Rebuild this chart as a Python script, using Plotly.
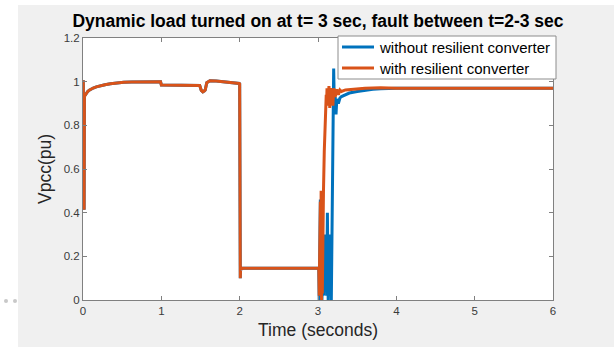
import plotly.graph_objects as go

# ---------------- data ----------------
# shared part (both cases identical before the dynamic load turns on at t = 3 s)
t_pre = [0, 0.004, 0.008, 0.014, 0.018, 0.024, 0.032, 0.045, 0.06, 0.08,
         0.1, 0.13, 0.17, 0.22, 0.28, 0.35, 0.43, 0.52, 0.62, 0.75,
         0.88, 0.99, 1.0, 1.01, 1.2, 1.4, 1.49, 1.51, 1.53, 1.55,
         1.56, 1.58, 1.62, 1.7, 1.8, 1.9, 1.995, 2.0, 2.008, 2.012,
         2.02, 2.04, 2.3, 2.6, 2.9, 3.0]
v_pre = [1.0, 1.0, 0.42, 0.42, 0.93, 0.945, 0.94, 0.948, 0.955, 0.961,
         0.966, 0.971, 0.976, 0.981, 0.986, 0.99, 0.994, 0.997, 0.999, 1.0,
         1.002, 1.0, 0.985, 0.985, 0.985, 0.984, 0.983, 0.96, 0.953, 0.958,
         0.962, 0.995, 1.004, 1.003, 1.0, 0.996, 0.992, 0.99, 0.10, 0.15,
         0.142, 0.145, 0.145, 0.145, 0.145, 0.145]

# without resilient converter (after t = 3 s)
t_without = [3.01, 3.015, 3.02, 3.025, 3.03, 3.035, 3.04, 3.05, 3.06, 3.07,
             3.08, 3.09, 3.1, 3.11, 3.12, 3.13, 3.14, 3.15, 3.16, 3.17,
             3.18, 3.19, 3.2, 3.21, 3.22, 3.23, 3.24, 3.26, 3.28, 3.3,
             3.35, 3.4, 3.5, 3.6, 3.7, 3.8, 4.0, 5.0, 6.0]
v_without = [0.145, 0.0, 0.25, 0.05, 0.46, 0.1, 0.3, 0.0, 0.15, 0.02,
             0.3, 0.05, 0.2, 0.02, 0.4, 0.0, 0.3, 0.02, 0.25, 0.0,
             0.5, 0.85, 1.06, 0.86, 0.93, 0.85, 0.92, 0.9, 0.925, 0.932,
             0.94, 0.948, 0.955, 0.961, 0.965, 0.968, 0.97, 0.97, 0.97]

# with resilient converter (after t = 3 s)
t_with = [3.01, 3.015, 3.02, 3.025, 3.03, 3.035, 3.04, 3.045, 3.05, 3.055,
          3.06, 3.07, 3.08, 3.09, 3.1, 3.105, 3.11, 3.115, 3.12, 3.125,
          3.13, 3.14, 3.15, 3.16, 3.17, 3.18, 3.19, 3.2, 3.22, 3.24,
          3.26, 3.28, 3.3, 3.35, 3.45, 3.6, 3.8, 4.0, 5.0, 6.0]
v_with = [0.145, 0.02, 0.3, 0.05, 0.45, 0.08, 0.5, 0.0, 0.38, 0.03,
          0.28, 0.5, 0.68, 0.8, 0.88, 0.94, 0.9, 0.97, 0.89, 0.96,
          0.91, 0.98, 0.88, 0.97, 0.92, 0.96, 0.89, 0.97, 0.93, 0.965,
          0.94, 0.962, 0.955, 0.962, 0.966, 0.97, 0.972, 0.97, 0.97, 0.97]

series_names = ["without resilient converter", "with resilient converter"]
x_ticks = [0, 1, 2, 3, 4, 5, 6]
y_ticks = [0, 0.2, 0.4, 0.6, 0.8, 1.0, 1.2]
y_tick_labels = ["0", "0.2", "0.4", "0.6", "0.8", "1", "1.2"]

# ---------------- figure ----------------
FONT = "Liberation Sans, Arial, Helvetica, sans-serif"
BLUE = "#0072BD"
ORANGE = "#D95319"
AXIS = "#808080"
colors = [BLUE, ORANGE]

fig = go.Figure()
fig.add_trace(go.Scatter(x=t_pre + t_without, y=v_pre + v_without, mode="lines",
                         name=series_names[0], line=dict(color=BLUE, width=3)))
fig.add_trace(go.Scatter(x=t_pre + t_with, y=v_pre + v_with, mode="lines",
                         name=series_names[1], line=dict(color=ORANGE, width=3)))

axis_common = dict(showgrid=False, zeroline=False, showline=True, linecolor=AXIS,
                   linewidth=1, mirror="ticks", ticks="inside", ticklen=4,
                   tickcolor=AXIS, tickfont=dict(family=FONT, size=11.5, color="#3a3a3a"))

# MATLAB-like legend box drawn with shapes (pixel offsets from the plot's top-left corner)
px_shape = dict(xref="paper", yref="paper", xsizemode="pixel", ysizemode="pixel",
                xanchor=0, yanchor=1)
shapes = [
    # white strips at the left and top edge of the picture
    dict(type="rect", xref="paper", yref="paper", xsizemode="pixel", ysizemode="pixel",
         xanchor=0, yanchor=0, x0=-84, x1=-65, y0=-60, y1=320,
         fillcolor="white", line=dict(width=0), layer="below"),
    dict(type="rect", **px_shape, x0=-84, x1=540, y0=33, y1=45,
         fillcolor="white", line=dict(width=0), layer="below"),
    # small grey dots at the left edge
    dict(type="circle", xref="paper", yref="paper", xsizemode="pixel", ysizemode="pixel",
         xanchor=0, yanchor=0, x0=-79, x1=-75, y0=-3, y1=1,
         fillcolor="#c8c8c8", line=dict(width=0)),
    dict(type="circle", xref="paper", yref="paper", xsizemode="pixel", ysizemode="pixel",
         xanchor=0, yanchor=0, x0=-70, x1=-66, y0=-3, y1=1,
         fillcolor="#c8c8c8", line=dict(width=0)),
    # legend box
    dict(type="rect", **px_shape, x0=255, x1=473, y0=-41, y1=2,
         fillcolor="white", line=dict(color="#8c8c8c", width=1)),
]
annotations = []
for i, (name, col) in enumerate(zip(series_names, colors)):
    row_y = -9 - 21 * i
    shapes.append(dict(type="line", **px_shape, x0=259, x1=291, y0=row_y, y1=row_y,
                       line=dict(color=col, width=3)))
    annotations.append(dict(text=name, xref="paper", yref="paper",
                            x=(377 - 83) / 470, y=1 + row_y / 262,
                            xanchor="left", yanchor="middle", showarrow=False,
                            font=dict(family=FONT, size=15, color="black")))

fig.update_layout(
    width=614, height=347,
    margin=dict(l=83, r=61, t=38, b=47),
    paper_bgcolor="#f0f0f0",
    plot_bgcolor="white",
    showlegend=False,
    title=dict(text="Dynamic load turned on at t= 3 sec, fault between t=2-3 sec",
               x=0.5, xref="paper", xanchor="center",
               y=1 - 21 / 347, yref="container", yanchor="middle",
               font=dict(family=FONT, size=17.5, color="black", weight="bold")),
    xaxis=dict(range=[0, 6], tickvals=x_ticks, ticktext=[str(v) for v in x_ticks],
               title=dict(text="Time (seconds)", font=dict(family=FONT, size=17.5, color="#262626"),
                          standoff=7),
               **axis_common),
    yaxis=dict(range=[0, 1.2], tickvals=y_ticks, ticktext=y_tick_labels,
               title=dict(text="Vpcc(pu)", font=dict(family=FONT, size=17.5, color="#262626"),
                          standoff=7),
               **axis_common),
    shapes=shapes,
    annotations=annotations,
)

fig.write_html("out.html")
